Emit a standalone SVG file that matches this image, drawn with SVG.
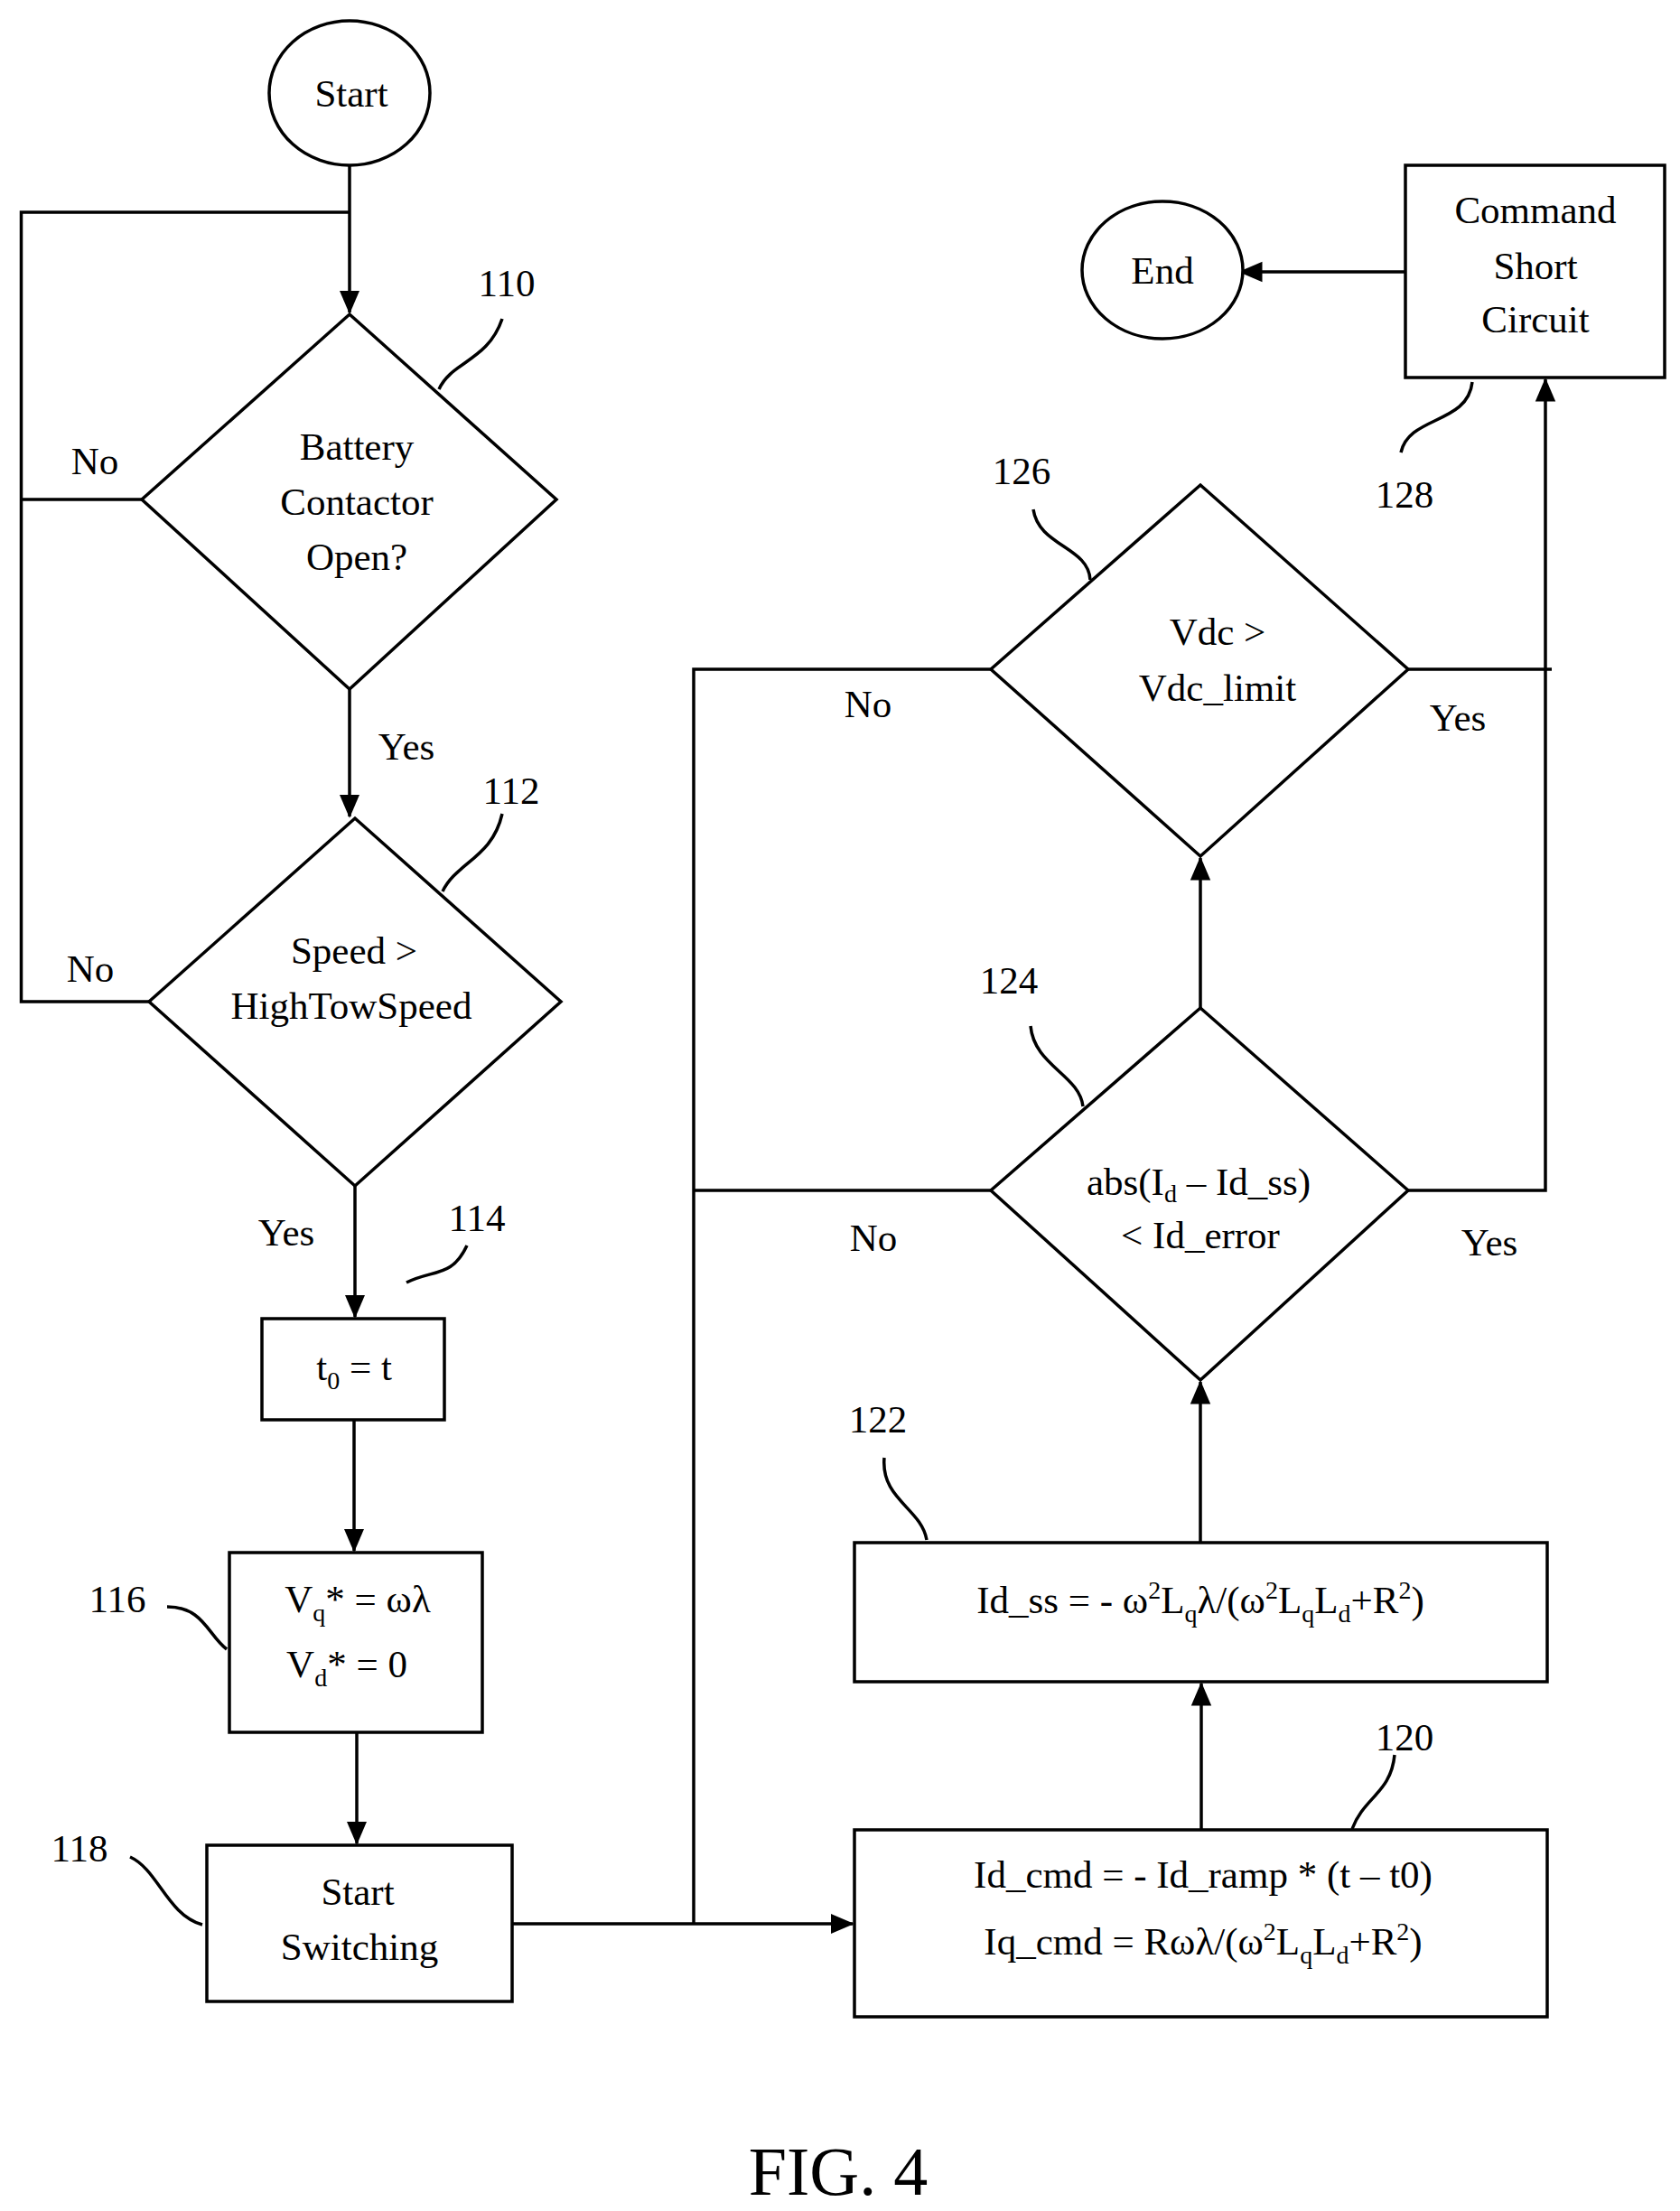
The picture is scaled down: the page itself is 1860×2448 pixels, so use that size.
<svg xmlns="http://www.w3.org/2000/svg" width="1860" height="2448" viewBox="0 0 1860 2448">
<style>
.s{fill:none;stroke:#000;stroke-width:3.5}
.n{fill:#fff;stroke:#000;stroke-width:3.5}
.t{font-family:"Liberation Serif",serif;font-size:43px;fill:#000;text-anchor:middle}
.sub{font-size:28px}
.sup{font-size:28px}
</style>
<defs>
<marker id="a" markerWidth="8" markerHeight="8" refX="7" refY="4" orient="auto" markerUnits="strokeWidth"><path d="M0,0.8 L7.5,4 L0,7.2z" fill="#000"/></marker>
</defs>
<g id="connectors" class="s">
<path d="M387,183 V346" marker-end="url(#a)"/>
<path d="M387,235 H23.5 V1109 H165"/>
<path d="M23.5,553 H157"/>
<path d="M387,763 V904" marker-end="url(#a)"/>
<path d="M393,1313 V1458" marker-end="url(#a)"/>
<path d="M392,1572 V1717" marker-end="url(#a)"/>
<path d="M395,1918 V2041" marker-end="url(#a)"/>
<path d="M567,2130 H944" marker-end="url(#a)"/>
<path d="M768,2130 V741 H1097"/>
<path d="M768,1318 H1097"/>
<path d="M1330,2026 V1864" marker-end="url(#a)"/>
<path d="M1329,1708 V1530" marker-end="url(#a)"/>
<path d="M1329,1116 V950" marker-end="url(#a)"/>
<path d="M1559,1318 H1711 V420" marker-end="url(#a)"/>
<path d="M1559,741 H1718"/>
<path d="M1556,301 H1373" marker-end="url(#a)"/>
<path d="M486,431 C500,400 540,400 556,353"/>
<path d="M490,987 C505,955 545,950 556,901"/>
<path d="M450,1420 C480,1405 500,1415 517,1379"/>
<path d="M185,1779 C225,1779 230,1810 251,1826"/>
<path d="M144,2056 C175,2070 185,2120 224,2131"/>
<path d="M1497,2025 C1510,1990 1540,1985 1544,1943"/>
<path d="M1026,1705 C1020,1670 975,1660 979,1614"/>
<path d="M1199,1225 C1195,1190 1145,1180 1141,1136"/>
<path d="M1207,642 C1205,605 1150,605 1144,564"/>
<path d="M1630,423 C1625,470 1560,460 1551,501"/>
</g>
<g id="start"><ellipse class="n" cx="387" cy="103" rx="89" ry="80"/><text class="t" x="389" y="118">Start</text></g>
<g id="end"><ellipse class="n" cx="1287" cy="299" rx="89" ry="76"/><text class="t" x="1287" y="314">End</text></g>
<g id="n110"><path class="n" d="M387,348 L616,553 L387,763 L157,553Z"/>
<text class="t" x="395" y="509">Battery</text><text class="t" x="395" y="570">Contactor</text><text class="t" x="395" y="631">Open?</text>
<text class="t" x="561" y="328">110</text><text class="t" x="105" y="525">No</text><text class="t" x="450" y="841">Yes</text></g>
<g id="n112"><path class="n" d="M393,906 L621,1109 L393,1313 L165,1109Z"/>
<text class="t" x="392" y="1067">Speed &gt;</text><text class="t" x="389" y="1128">HighTowSpeed</text>
<text class="t" x="566" y="890">112</text><text class="t" x="100" y="1087">No</text><text class="t" x="317" y="1379">Yes</text></g>
<g id="n114"><rect class="n" x="290" y="1460" width="202" height="112"/>
<text class="t" x="392" y="1528">t<tspan class="sub" dy="10">0</tspan><tspan dy="-10"> = t</tspan></text>
<text class="t" x="528" y="1363">114</text></g>
<g id="n116"><rect class="n" x="254" y="1719" width="280" height="199"/>
<text class="t" x="396" y="1785">V<tspan class="sub" dy="10">q</tspan><tspan dy="-10">* = ωλ</tspan></text>
<text class="t" x="384" y="1857">V<tspan class="sub" dy="10">d</tspan><tspan dy="-10">* = 0</tspan></text>
<text class="t" x="130" y="1785">116</text></g>
<g id="n118"><rect class="n" x="229" y="2043" width="338" height="173"/>
<text class="t" x="396" y="2109">Start</text><text class="t" x="398" y="2170">Switching</text>
<text class="t" x="88" y="2061">118</text></g>
<g id="n120"><rect class="n" x="946" y="2026" width="767" height="207"/>
<text class="t" x="1332" y="2090">Id_cmd = - Id_ramp * (t – t0)</text>
<text class="t" x="1332" y="2164">Iq_cmd = Rωλ/(ω<tspan class="sup" dy="-16">2</tspan><tspan dy="16">L</tspan><tspan class="sub" dy="10">q</tspan><tspan dy="-10">L</tspan><tspan class="sub" dy="10">d</tspan><tspan dy="-10">+R</tspan><tspan class="sup" dy="-16">2</tspan><tspan dy="16">)</tspan></text>
<text class="t" x="1555" y="1938">120</text></g>
<g id="n122"><rect class="n" x="946" y="1708" width="767" height="154"/>
<text class="t" x="1329" y="1786">Id_ss = - ω<tspan class="sup" dy="-16">2</tspan><tspan dy="16">L</tspan><tspan class="sub" dy="10">q</tspan><tspan dy="-10">λ/(ω</tspan><tspan class="sup" dy="-16">2</tspan><tspan dy="16">L</tspan><tspan class="sub" dy="10">q</tspan><tspan dy="-10">L</tspan><tspan class="sub" dy="10">d</tspan><tspan dy="-10">+R</tspan><tspan class="sup" dy="-16">2</tspan><tspan dy="16">)</tspan></text>
<text class="t" x="972" y="1586">122</text></g>
<g id="n124"><path class="n" d="M1329,1116 L1559,1318 L1329,1528 L1097,1318Z"/>
<text class="t" x="1327" y="1323">abs(I<tspan class="sub" dy="8">d</tspan><tspan dy="-8"> – Id_ss)</tspan></text>
<text class="t" x="1329" y="1382">&lt; Id_error</text>
<text class="t" x="1117" y="1100">124</text><text class="t" x="967" y="1385">No</text><text class="t" x="1649" y="1390">Yes</text></g>
<g id="n126"><path class="n" d="M1329,537 L1559,741 L1329,948 L1097,741Z"/>
<text class="t" x="1348" y="714">Vdc &gt;</text><text class="t" x="1348" y="776">Vdc_limit</text>
<text class="t" x="1131" y="536">126</text><text class="t" x="961" y="794">No</text><text class="t" x="1614" y="809">Yes</text></g>
<g id="n128"><rect class="n" x="1556" y="183" width="287" height="235"/>
<text class="t" x="1700" y="247">Command</text><text class="t" x="1700" y="309">Short</text><text class="t" x="1700" y="368">Circuit</text>
<text class="t" x="1555" y="562">128</text></g>
<text class="t" x="928" y="2430" style="font-size:76px">FIG. 4</text>
</svg>
